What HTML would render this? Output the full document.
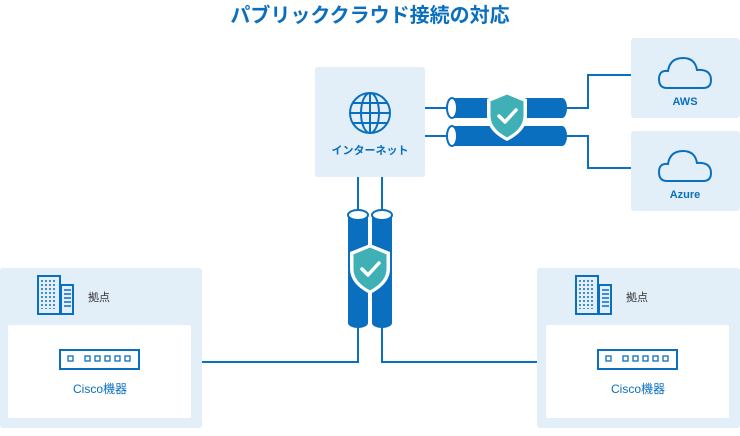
<!DOCTYPE html>
<html><head><meta charset="utf-8"><style>
body{margin:0;width:740px;height:431px;background:#fff;overflow:hidden;font-family:"Liberation Sans","Noto Sans CJK JP",sans-serif}
</style></head><body>
<svg width="740" height="431" viewBox="0 0 740 431" xmlns="http://www.w3.org/2000/svg" font-family="Liberation Sans, Noto Sans CJK JP, sans-serif">
<text x="370" y="22" text-anchor="middle" font-size="20" font-weight="bold" fill="#0a6fbf">パブリッククラウド接続の対応</text>
<!-- boxes -->
<rect x="315" y="67" width="110" height="110" rx="3" fill="#e3eff8"/>
<rect x="631" y="38" width="109" height="80" rx="3" fill="#e3eff8"/>
<rect x="631" y="131" width="109" height="80" rx="3" fill="#e3eff8"/>
<rect x="0" y="268" width="202" height="160" rx="3" fill="#e3eff8"/>
<rect x="8" y="325" width="183" height="93" rx="2" fill="#fff"/>
<rect x="537" y="268" width="203" height="160" rx="3" fill="#e3eff8"/>
<rect x="546" y="325" width="183" height="93" rx="2" fill="#fff"/>
<!-- lines -->
<g stroke="#0a6fbf" stroke-width="2" fill="none">
<path d="M425 108H450M425 136H450"/>
<path d="M564 108H588V75H631M564 136H588V168H631"/>
<path d="M358 177V214M382 177V214"/>
<path d="M358 325V362H202M382 325V362H537"/>
</g>
<!-- horizontal pipes -->
<g>
<rect x="452" y="98" width="110" height="20" fill="#0a6fbf"/>
<ellipse cx="562" cy="108" rx="5" ry="10" fill="#0a6fbf"/>
<ellipse cx="452" cy="108" rx="5" ry="10" fill="#fff" stroke="#0a6fbf" stroke-width="2"/>
<rect x="452" y="126" width="110" height="20" fill="#0a6fbf"/>
<ellipse cx="562" cy="136" rx="5" ry="10" fill="#0a6fbf"/>
<ellipse cx="452" cy="136" rx="5" ry="10" fill="#fff" stroke="#0a6fbf" stroke-width="2"/>
</g>
<!-- vertical pipes -->
<g>
<rect x="348" y="215" width="20" height="108" fill="#0a6fbf"/>
<ellipse cx="358" cy="323" rx="10" ry="5" fill="#0a6fbf"/>
<ellipse cx="358" cy="215" rx="10" ry="5" fill="#fff" stroke="#0a6fbf" stroke-width="2"/>
<rect x="372" y="215" width="20" height="108" fill="#0a6fbf"/>
<ellipse cx="382" cy="323" rx="10" ry="5" fill="#0a6fbf"/>
<ellipse cx="382" cy="215" rx="10" ry="5" fill="#fff" stroke="#0a6fbf" stroke-width="2"/>
</g>
<!-- shields -->
<g id="sh">
<path d="M507 91 L527 99 V116 Q527 131 507 141 Q487 131 487 116 V99 Z" fill="#fff"/>
<path d="M507 94 L524 101 V116 Q524 129 507 138 Q490 129 490 116 V101 Z" fill="#3fb0b5" stroke="#fff" stroke-width="1"/>
<path d="M499 116 L505 122 L516 110" stroke="#fff" stroke-width="3.5" fill="none" stroke-linecap="round" stroke-linejoin="round"/>
</g>
<use href="#sh" transform="translate(-137 153)"/>
<!-- globe -->
<g stroke="#0a6fbf" stroke-width="2" fill="none">
<circle cx="370" cy="113" r="20"/>
<ellipse cx="370" cy="113" rx="9" ry="20"/>
<path d="M370 93V133M350 113H390M353 103H387M353 123H387"/>
</g>
<text x="370" y="154" text-anchor="middle" font-size="11" font-weight="bold" fill="#0a6fbf">インターネット</text>
<!-- clouds -->
<g stroke="#0a6fbf" stroke-width="2" fill="none">
<path d="M667 88 Q659 88 659 79 Q659 70 668 71 Q670 58 683 58 Q695 58 697 70 Q711 69 711 80 Q711 88 703 88 Z"/>
<path d="M667 181 Q659 181 659 172 Q659 163 668 164 Q670 151 683 151 Q695 151 697 163 Q711 162 711 173 Q711 181 703 181 Z"/>
</g>
<text x="685" y="105" text-anchor="middle" font-size="11" font-weight="bold" fill="#0a6fbf">AWS</text>
<text x="685" y="198" text-anchor="middle" font-size="11" font-weight="bold" fill="#0a6fbf">Azure</text>
<!-- buildings -->
<g id="bd">
<rect x="38" y="276" width="22" height="38" fill="none" stroke="#0a6fbf" stroke-width="2"/>
<rect x="61" y="285" width="12" height="29" fill="none" stroke="#0a6fbf" stroke-width="2"/>
<g stroke="#0a6fbf" stroke-width="1.5" stroke-dasharray="2 2">
<path d="M42 280V309M46 280V309M50 280V309M54 280V309"/>
</g>
<path d="M64 290H71M64 294H71M64 298H71M64 302H71M64 306H71" stroke="#0a6fbf" stroke-width="1.5"/>
<text x="88" y="301" font-size="11" fill="#333">拠点</text>
<rect x="60" y="350" width="79" height="19" fill="none" stroke="#0a6fbf" stroke-width="2"/>
<g fill="none" stroke="#0a6fbf" stroke-width="1.3">
<rect x="68" y="356" width="5" height="5"/><rect x="85" y="356" width="5" height="5"/><rect x="95" y="356" width="5" height="5"/><rect x="105" y="356" width="5" height="5"/><rect x="115" y="356" width="5" height="5"/><rect x="125" y="356" width="5" height="5"/>
</g>
<text x="100" y="393" text-anchor="middle" font-size="12" fill="#0a6fbf">Cisco機器</text>
</g>
<use href="#bd" transform="translate(538 0)"/>
</svg>
</body></html>
